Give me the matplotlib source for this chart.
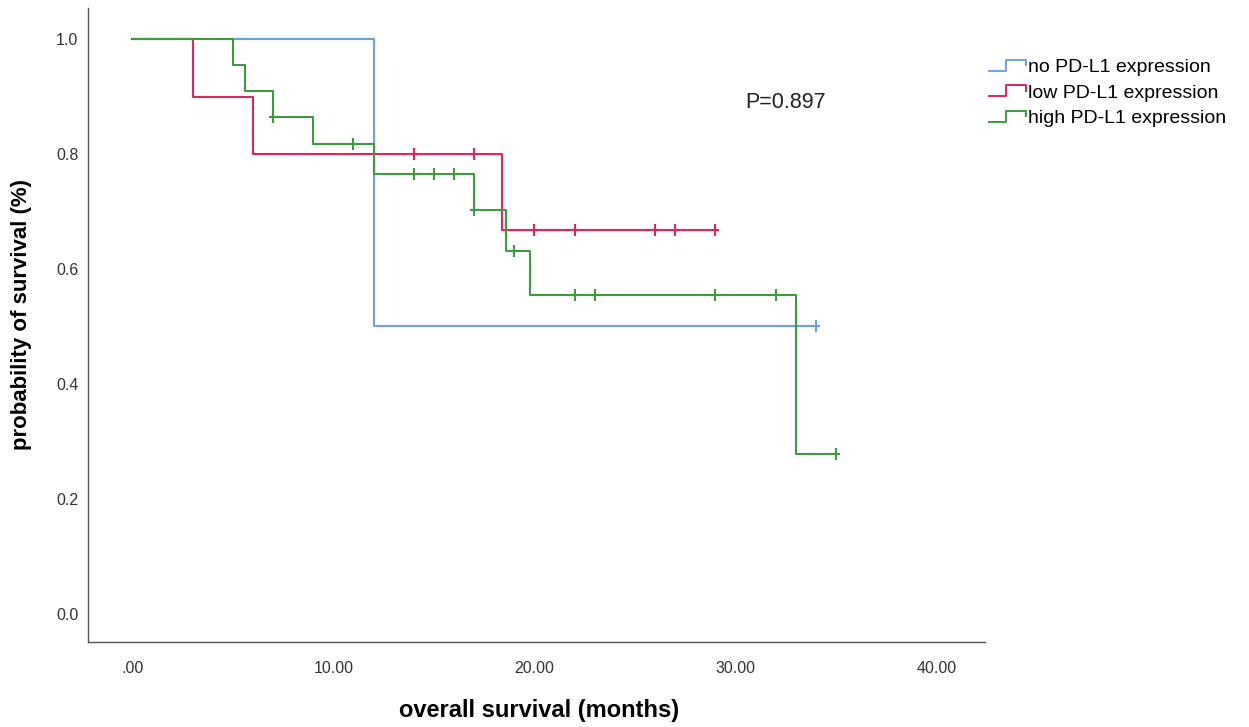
import matplotlib
matplotlib.use("Agg")
import matplotlib.pyplot as plt
from matplotlib.legend_handler import HandlerBase
from matplotlib.lines import Line2D

plt.rcParams["font.family"] = ["Liberation Sans", "DejaVu Sans"]

# Kaplan-Meier step data (time in months, survival after step)
no_t = [0, 12, 34]
no_s = [1.0, 0.5, 0.5]
no_cens_t = [34]
no_cens_s = [0.5]

low_t = [0, 3, 6, 18.4, 29]
low_s = [1.0, 0.9, 0.8, 0.667, 0.667]
low_cens_t = [14, 17, 20, 22, 26, 27, 29]
low_cens_s = [0.8, 0.8, 0.667, 0.667, 0.667, 0.667, 0.667]

high_t = [0, 5, 5.6, 7, 9, 12, 17, 18.6, 19.8, 33, 35]
high_s = [1.0, 0.955, 0.909, 0.864, 0.818, 0.766, 0.703, 0.632, 0.554, 0.278, 0.278]
high_cens_t = [7, 11, 14, 15, 16, 17, 19, 22, 23, 29, 32, 35]
high_cens_s = [0.864, 0.818, 0.766, 0.766, 0.766, 0.703, 0.632, 0.554, 0.554, 0.554, 0.554, 0.278]

labels = ["no PD-L1 expression", "low PD-L1 expression", "high PD-L1 expression"]
colors = ["#6e9fe6", "#e0245a", "#3f9a3f"]

xticks = [0, 10, 20, 30, 40]
xticklabels = [".00", "10.00", "20.00", "30.00", "40.00"]
yticks = [0.0, 0.2, 0.4, 0.6, 0.8, 1.0]


class StepHandler(HandlerBase):
    def create_artists(self, legend, orig_handle, xdescent, ydescent,
                       width, height, fontsize, trans):
        x0 = -xdescent
        y0 = -ydescent
        xs = [x0, x0 + width * 0.45, x0 + width * 0.45, x0 + width, x0 + width]
        ys = [y0 + height * 0.1, y0 + height * 0.1, y0 + height * 0.9,
              y0 + height * 0.9, y0 + height * 0.5]
        ln = Line2D(xs, ys, color=orig_handle.get_color(), lw=1.4, transform=trans)
        return [ln]


fig = plt.figure(figsize=(12.49, 7.27), dpi=100)
ax = fig.add_axes([0.0705, 0.117, 0.718, 0.872])

series = [(no_t, no_s, no_cens_t, no_cens_s),
          (low_t, low_s, low_cens_t, low_cens_s),
          (high_t, high_s, high_cens_t, high_cens_s)]
handles = []
for (t, s, ct, cs), col, lab in zip(series, colors, labels):
    h, = ax.step(t, s, where="post", color=col, lw=1.5, label=lab)
    ax.plot(ct, cs, linestyle="none", marker="|", markersize=9,
            markeredgewidth=1.5, color=col)
    ax.plot(ct, cs, linestyle="none", marker="_", markersize=6,
            markeredgewidth=1.5, color=col)
    handles.append(h)

ax.set_xlim(-2.2, 42.4)
ax.set_ylim(-0.049, 1.054)
ax.set_xticks(xticks)
ax.set_xticklabels(xticklabels)
ax.set_yticks(yticks)
ax.set_yticklabels([f"{v:.1f}" for v in yticks])
ax.tick_params(axis="x", length=0, pad=14, labelsize=11.5, colors="#333333")
ax.tick_params(axis="y", length=0, pad=7, labelsize=11.5, colors="#333333")
for side in ["top", "right"]:
    ax.spines[side].set_visible(False)
for side in ["left", "bottom"]:
    ax.spines[side].set_color("#555555")
    ax.spines[side].set_linewidth(1.0)

ax.set_xlabel("overall survival (months)", fontsize=17, fontweight="bold")
ax.xaxis.set_label_coords(0.503, -0.09)
ax.set_ylabel("probability of survival (%)", fontsize=16, fontweight="bold")
ax.yaxis.set_label_coords(-0.063, 0.516)

ax.text(30.5, 0.889, "P=0.897", fontsize=15.5, va="center", ha="left", color="#222222")

fig.legend(handles, labels, handler_map={h: StepHandler() for h in handles},
           loc="upper left", bbox_to_anchor=(0.786, 0.93), frameon=False,
           fontsize=14, handlelength=1.9, handletextpad=0.1, labelspacing=0.4,
           borderaxespad=0)

fig.savefig("out.png", dpi=100)
